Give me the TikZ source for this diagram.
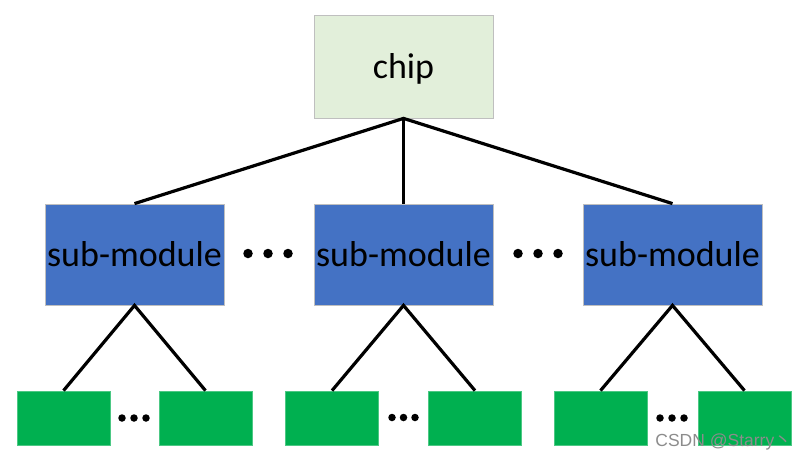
\documentclass[tikz,border=0pt]{standalone}
\usepackage{fontspec}
\setmainfont{Carlito}
\newfontfamily\wmfont{Liberation Sans}
\newfontfamily\cjkfont{Noto Sans CJK SC}
\definecolor{chipfill}{HTML}{E2EFDA}
\definecolor{subfill}{HTML}{4472C4}
\definecolor{leaffill}{HTML}{00B050}
\definecolor{boxline}{HTML}{BFBFBF}
\tikzset{
  box/.style={draw=boxline, line width=0.8pt, inner sep=0pt, text=black,
    font=\fontsize{36}{40}\selectfont},
  chipbox/.style={box, fill=chipfill, minimum width=179pt, minimum height=103pt},
  subbox/.style={box, fill=subfill, minimum width=179pt, minimum height=101pt},
  leafbox/.style={box, draw=leaffill!70!white, fill=leaffill, minimum width=93pt, minimum height=54pt},
  bigdot/.style={circle, fill=black, inner sep=0pt, minimum size=9.5pt},
  smalldot/.style={circle, fill=black, inner sep=0pt, minimum size=7.5pt},
  link/.style={line width=3.2pt, black}
}
\begin{document}
\begin{tikzpicture}[x=1pt, y=-1pt]
\useasboundingbox (0,0) rectangle (806,464);
% top
\node[chipbox] (chip) at (403.5,66.5) {};
\node[font=\fontsize{36}{40}\selectfont, inner sep=0pt] (chiptext) at (403.5,68.5) {chip};
% middle
\node[subbox] (s1) at (134.5,254.5) {sub-module};
\node[subbox] (s2) at (403.5,254.5) {sub-module};
\node[subbox] (s3) at (672.5,254.5) {sub-module};
% dots between sub-modules
\node[bigdot] (da1) at (248,253.5) {};
\node[bigdot] (da2) at (268,253.5) {};
\node[bigdot] (da3) at (288,253.5) {};
\node[bigdot] (db1) at (518,253.5) {};
\node[bigdot] (db2) at (538,253.5) {};
\node[bigdot] (db3) at (558,253.5) {};
% leaves
\node[leafbox] (g11) at (63.5,418) {};
\node[leafbox] (g12) at (205.5,418) {};
\node[leafbox] (g21) at (332,418) {};
\node[leafbox] (g22) at (475,418) {};
\node[leafbox] (g31) at (600.5,418) {};
\node[leafbox] (g32) at (744.5,418) {};
% small dots
\foreach \n/\x in {a/122,b/134,c/146}{\node[smalldot] (e1\n) at (\x,418) {};}
\foreach \n/\x in {a/392,b/403.5,c/415}{\node[smalldot] (e2\n) at (\x,417.5) {};}
\foreach \n/\x in {a/660,b/672,c/684}{\node[smalldot] (e3\n) at (\x,418) {};}
% connectors
\draw[link] (s1.north) -- (chip.south) -- (s3.north);
\draw[link] (chip.south) -- (s2.north);
\draw[link] (g11.north) -- (s1.south) -- (g12.north);
\draw[link] (g21.north) -- (s2.south) -- (g22.north);
\draw[link] (g31.north) -- (s3.south) -- (g32.north);
% watermark text
\node[text=black!45, font=\wmfont\fontsize{17.5}{19}\selectfont, inner sep=0pt, anchor=east] (csdn) at (792,442) {CSDN @Starry{\cjkfont 丶}};
\end{tikzpicture}
\end{document}
